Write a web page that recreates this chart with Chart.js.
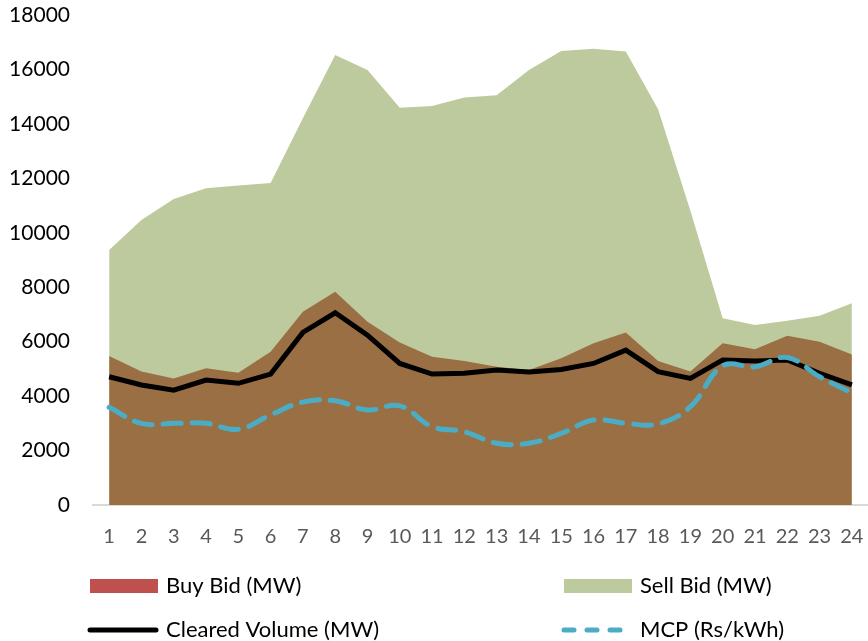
<!DOCTYPE html>
<html lang="en">
  <head>
    <meta charset="utf-8" />
    <title>Bids chart</title>
    <style>
      html, body {
        margin: 0;
        padding: 0;
        background: #ffffff;
        overflow: hidden;
      }
      .chartBox {
        width: 868px;
        height: 641px;
      }
    </style>
  </head>
  <body>
    <div class="chartBox">
      <canvas id="myChart" width="868" height="641"></canvas>
    </div>

    <script src="https://cdn.jsdelivr.net/npm/chart.js/dist/chart.umd.min.js"></script>
    <script>
      // data
      const hours = ["1","2","3","4","5","6","7","8","9","10","11","12","13","14","15","16","17","18","19","20","21","22","23","24"];
      const buyBid = [5470, 4900, 4650, 5020, 4860, 5630, 7100, 7830, 6730, 5970, 5450, 5290, 5080, 4960, 5390, 5940, 6340, 5290, 4900, 5940, 5720, 6220, 6000, 5530];
      const sellBid = [9370, 10470, 11240, 11640, 11740, 11830, 14210, 16530, 15980, 14590, 14660, 14970, 15050, 15980, 16680, 16760, 16660, 14540, 10810, 6860, 6610, 6770, 6950, 7410];
      const clearedVolume = [4710, 4410, 4220, 4590, 4470, 4810, 6340, 7060, 6240, 5200, 4810, 4840, 4960, 4890, 4980, 5200, 5690, 4900, 4650, 5330, 5290, 5330, 4840, 4410];
      const mcp = [3590, 3000, 3000, 3000, 2780, 3310, 3780, 3830, 3490, 3640, 2880, 2690, 2270, 2270, 2630, 3120, 3000, 2980, 3610, 5110, 5080, 5420, 4710, 4120];
      const yTicks = [0, 2000, 4000, 6000, 8000, 10000, 12000, 14000, 16000, 18000];

      const FONT = "Lato, 'Noto Sans', sans-serif";

      // legend drawn as 2x2 grid under the axis
      const legendGrid = {
        id: "legendGrid",
        afterDraw(chart) {
          const ctx = chart.ctx;
          const ds = chart.data.datasets;
          const items = [
            { d: ds[2], x: 90, y: 586, kind: "box" },
            { d: ds[3], x: 564, y: 586, kind: "box" },
            { d: ds[1], x: 90, y: 630, kind: "line" },
            { d: ds[0], x: 564, y: 630, kind: "dash" },
          ];
          ctx.save();
          items.forEach((it) => {
            if (it.kind === "box") {
              ctx.fillStyle = it.d.legendColor || it.d.backgroundColor;
              ctx.fillRect(it.x, it.y - 7, 68, 14);
            } else {
              ctx.strokeStyle = it.d.borderColor;
              ctx.lineWidth = 5;
              ctx.lineCap = "round";
              ctx.setLineDash(it.kind === "dash" ? [10, 13] : []);
              ctx.beginPath();
              ctx.moveTo(it.x, it.y);
              ctx.lineTo(it.x + 66, it.y);
              ctx.stroke();
              ctx.setLineDash([]);
            }
            ctx.fillStyle = "#000000";
            ctx.font = "22px " + FONT;
            ctx.textBaseline = "middle";
            ctx.textAlign = "left";
            ctx.fillText(it.d.label, it.x + 76, it.y);
          });
          ctx.restore();
        },
      };

      const config = {
        type: "line",
        data: {
          labels: hours,
          datasets: [
            {
              label: "MCP (Rs/kWh)",
              data: mcp,
              borderColor: "#4BACC6",
              borderWidth: 5,
              borderDash: [18, 11],
              borderCapStyle: "round",
              tension: 0.4,
              pointRadius: 0,
              fill: false,
              order: 0,
            },
            {
              label: "Cleared Volume (MW)",
              data: clearedVolume,
              borderColor: "#000000",
              borderWidth: 5,
              tension: 0,
              pointRadius: 0,
              fill: false,
              order: 1,
            },
            {
              label: "Buy Bid (MW)",
              data: buyBid,
              backgroundColor: "#9A6F43",
              legendColor: "#C0504D",
              borderWidth: 0,
              pointRadius: 0,
              tension: 0,
              fill: "origin",
              order: 2,
            },
            {
              label: "Sell Bid (MW)",
              data: sellBid,
              backgroundColor: "#BDCA9E",
              borderWidth: 0,
              pointRadius: 0,
              tension: 0,
              fill: "origin",
              order: 3,
            },
          ],
        },
        options: {
          responsive: false,
          animation: false,
          layout: { padding: { top: 15, right: 0, left: 0, bottom: 0 } },
          scales: {
            x: {
              offset: true,
              grid: { display: false, drawTicks: false },
              border: { display: true, color: "#D9D9D9", width: 2 },
              ticks: {
                color: "#595959",
                font: { family: FONT, size: 20 },
                padding: 20,
                maxRotation: 0,
                autoSkip: false,
              },
              afterFit: (scale) => {
                scale.height = 136;
                scale.paddingLeft = 0;
                scale.paddingRight = 0;
              },
            },
            y: {
              min: 0,
              max: 18000,
              grid: { display: false, drawTicks: false },
              border: { display: false },
              afterBuildTicks: (scale) => {
                scale.ticks = yTicks.map((v) => ({ value: v }));
              },
              ticks: {
                color: "#000000",
                font: { family: FONT, size: 21 },
                padding: 23,
                callback: (value) => String(value),
              },
              afterFit: (scale) => {
                scale.width = 93;
                scale.paddingTop = 0;
                scale.paddingBottom = 0;
              },
            },
          },
          plugins: {
            legend: { display: false },
            tooltip: { enabled: false },
          },
        },
        plugins: [legendGrid],
      };

      const myChart = new Chart(document.getElementById("myChart"), config);
    </script>
  </body>
</html>
